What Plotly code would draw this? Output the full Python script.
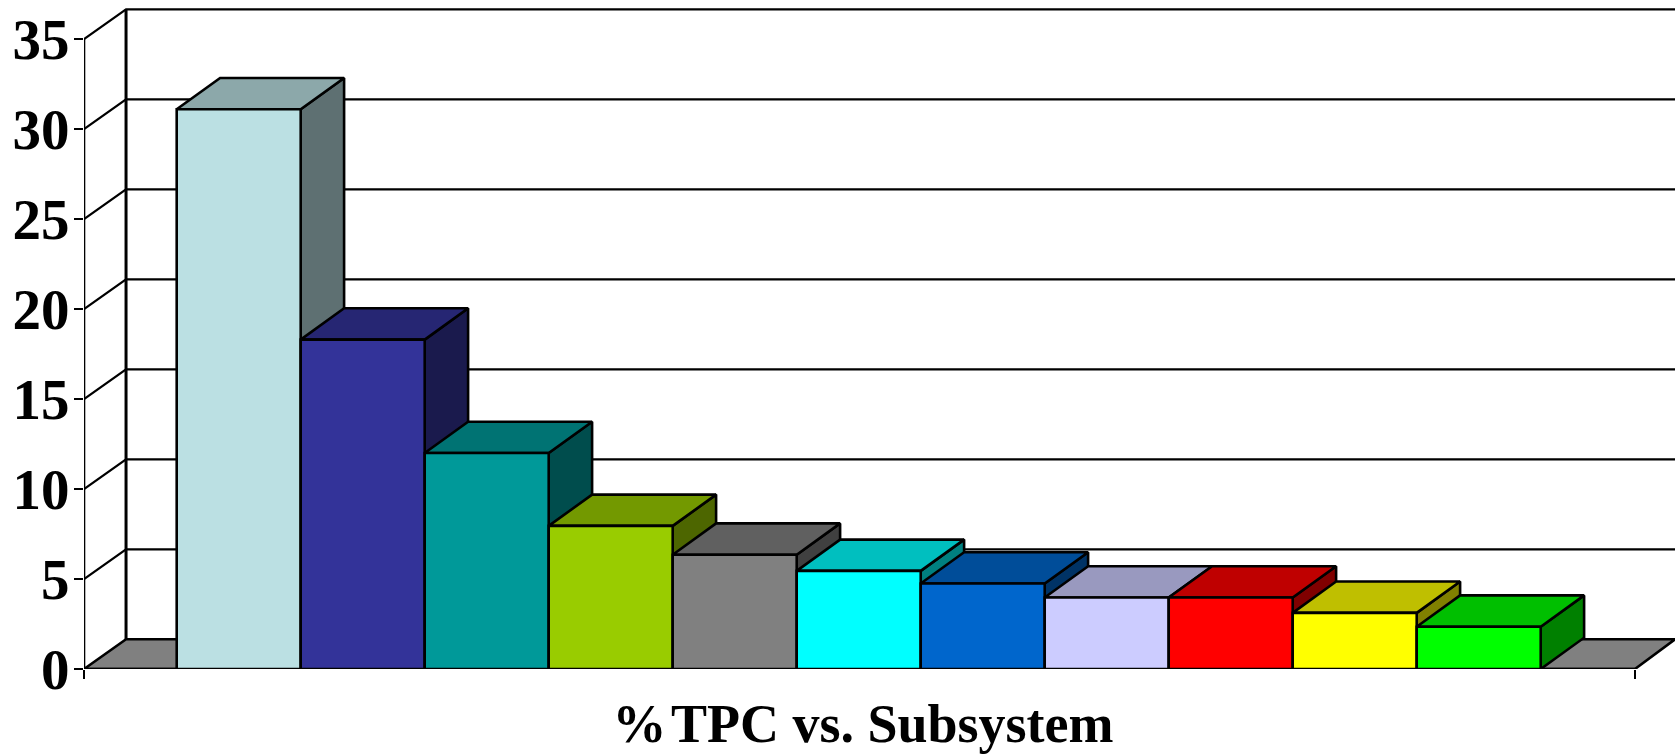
import plotly.graph_objects as go

# ---- data ----
subsystems = list(range(1, 12))
tpc_percent = [31.1, 18.3, 12.0, 7.95, 6.35, 5.45, 4.75, 3.97, 3.97, 3.12, 2.35]
front_colors = ["#BBE0E3", "#333399", "#009999", "#99CC00", "#808080", "#00FFFF",
                "#0066CC", "#CCCCFF", "#FF0000", "#FFFF00", "#00FF00"]
top_colors = ["#8CA8AA", "#262673", "#007373", "#739900", "#606060", "#00BFBF",
              "#004D99", "#9999BF", "#BF0000", "#BFBF00", "#00BF00"]
side_colors = ["#5E7072", "#1A1A4D", "#004D4D", "#4D6600", "#404040", "#008080",
               "#003366", "#666680", "#800000", "#808000", "#008000"]
y_ticks = [0, 5, 10, 15, 20, 25, 30, 35]
title_text = "%\u200aTPC vs. Subsystem"

# ---- 3-D projection, in axis units ----
DX = 0.339       # wall depth along the category axis
DY = 1.65        # wall depth along the value axis
BAR_DX = 0.35    # bar depth along the category axis
BAR_DY = 1.74    # bar depth along the value axis
BAR_W = 1.0
X_START = 1 - 1.2476
X_END = 1 + 11.26
X_RIGHT = 1 + 11.583
Y_TOP = 37.17
LW = 2.6
GRID_LW = 2.2
BLACK = "#000000"

fig = go.Figure()


def poly(xs, ys, fill=None, width=LW):
    fig.add_trace(go.Scatter(
        x=xs, y=ys, mode="lines", cliponaxis=False,
        line=dict(color=BLACK, width=width),
        fill="toself" if fill else None,
        fillcolor=fill, hoverinfo="skip", showlegend=False))


# floor
poly([X_START, X_START + DX, X_RIGHT, X_END, X_START],
     [0, DY, DY, 0, 0], fill="#808080")

# wall frame
poly([X_START + DX, X_START + DX], [DY, 35 + DY], width=3)
poly([X_START, X_START], [0, 35])
poly([X_START, X_END], [0, 0])

# grid on back wall and side wall
for v in y_ticks[1:]:
    poly([X_START, X_START + DX, X_RIGHT], [v, v + DY, v + DY], width=GRID_LW)

# bars, left to right
for s, v, fc, tc, sc in zip(subsystems, tpc_percent, front_colors, top_colors, side_colors):
    l, r = s - BAR_W / 2, s + BAR_W / 2
    poly([r, r + BAR_DX, r + BAR_DX, r, r], [0, BAR_DY, v + BAR_DY, v, 0], fill=sc)
    poly([l, l + BAR_DX, r + BAR_DX, r, l], [v, v + BAR_DY, v + BAR_DY, v, v], fill=tc)
    poly([l, r, r, l, l], [0, 0, v, v, 0], fill=fc)

fig.update_layout(
    width=1675, height=754,
    margin=dict(l=84, r=0, t=0, b=85, pad=0),
    paper_bgcolor="#FFFFFF", plot_bgcolor="#FFFFFF",
    font=dict(family="Liberation Serif", color=BLACK),
    title=dict(text=title_text, xref="container", yref="container",
               x=863 / 1675, y=(754 - 723) / 754, xanchor="center", yanchor="middle",
               font=dict(family="Liberation Serif", size=54, weight=700, color=BLACK)),
    xaxis=dict(range=[X_START, X_RIGHT], showgrid=False, zeroline=False, showline=False,
               tickmode="array", tickvals=[X_START, X_END], ticktext=["", ""],
               ticks="outside", ticklen=9, tickwidth=2.4, tickcolor=BLACK),
    yaxis=dict(range=[0, Y_TOP], showgrid=False, zeroline=False, showline=False,
               tickmode="array", tickvals=y_ticks, ticktext=[str(t) for t in y_ticks],
               ticks="outside", ticklen=9, tickwidth=2.4, tickcolor=BLACK,
               ticklabelstandoff=-7,
               tickfont=dict(family="Liberation Serif", size=57, weight=700, color=BLACK)),
)

fig.write_html("out.html", config=dict(displayModeBar=False),
               post_script="document.body.style.margin='0';document.body.style.overflow='hidden';")
